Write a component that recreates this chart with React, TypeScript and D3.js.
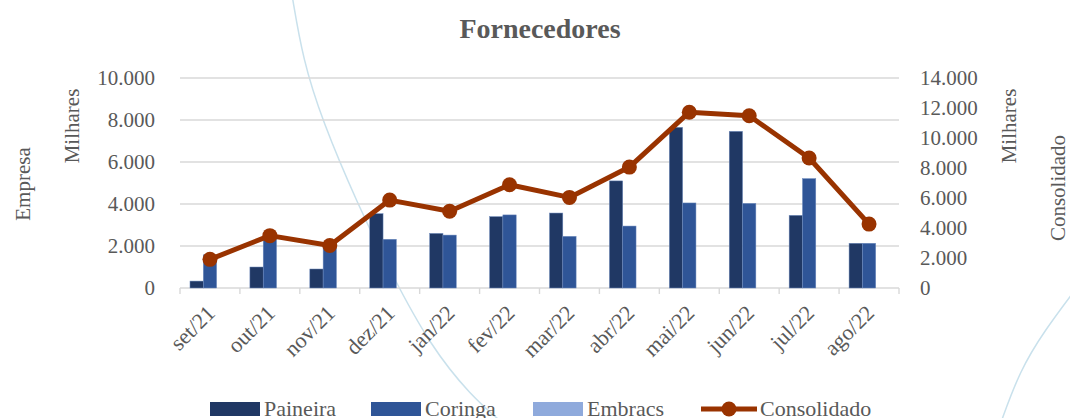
import * as d3 from "d3";

const months = ["set/21", "out/21", "nov/21", "dez/21", "jan/22", "fev/22", "mar/22", "abr/22", "mai/22", "jun/22", "jul/22", "ago/22"];
const paineira = [330, 1000, 905, 3540, 2600, 3400, 3570, 5100, 7650, 7460, 3460, 2130];
const coringa = [1580, 2490, 1920, 2320, 2520, 3480, 2460, 2950, 4050, 4030, 5210, 2130];
const embracs = [0, 0, 0, 0, 0, 0, 0, 0, 0, 0, 0, 0];
const consolidado = [1910, 3490, 2830, 5860, 5120, 6880, 6040, 8060, 11720, 11480, 8670, 4260];

const leftTicks = [0, 2000, 4000, 6000, 8000, 10000];
const rightTicks = [0, 2000, 4000, 6000, 8000, 10000, 12000, 14000];

const barSeries = [
  { name: "Paineira", values: paineira, color: "#203864" },
  { name: "Coringa", values: coringa, color: "#2F5597" },
  { name: "Embracs", values: embracs, color: "#8FAADC" },
];
const lineColor = "#993300";

const W = 1070;
const H = 418;
const FONT = "'Liberation Serif', 'Times New Roman', serif";
const TEXT = "#595959";

export default function App() {
  const left = 180, right = 899, top = 78, bottom = 288;

  const x = d3.scaleBand<string>().domain(months).range([left, right]).padding(0);
  const xs = d3.scaleBand<string>()
    .domain(barSeries.map(s => s.name))
    .range([0, x.bandwidth()])
    .paddingInner(0)
    .paddingOuter(0.75);
  const yL = d3.scaleLinear().domain([0, 10000]).range([bottom, top]);
  const yR = d3.scaleLinear().domain([0, 14000]).range([bottom, top]);
  const fmt = (v: number) => d3.format(",")(v).replace(/,/g, ".");

  const line = d3.line<number>()
    .x((_, i) => (x(months[i]) as number) + x.bandwidth() / 2)
    .y(d => yR(d));

  // faint decorative swooshes of the slide background
  const deco = d3.line().curve(d3.curveBasis);
  const swoosh1 = deco([[292, -5], [303, 60], [322, 120], [357, 203], [393, 277], [430, 345], [470, 395], [505, 425]]);
  const swoosh2 = deco([[1075, 290], [1045, 330], [1020, 370], [1000, 425]]);

  const legendItems = [
    { name: "Paineira", color: barSeries[0].color, x: 210, kind: "bar" },
    { name: "Coringa", color: barSeries[1].color, x: 371, kind: "bar" },
    { name: "Embracs", color: barSeries[2].color, x: 533, kind: "bar" },
    { name: "Consolidado", color: lineColor, x: 701, kind: "line" },
  ];

  return (
    <svg width={W} height={H} style={{ position: "absolute", left: 0, top: 0, background: "#fff" }} fontFamily={FONT}>
      <path d={swoosh1 ?? ""} fill="none" stroke="#C9E1EC" strokeWidth={1.5} />
      <path d={swoosh2 ?? ""} fill="none" stroke="#C9E1EC" strokeWidth={1.5} />

      <text x={540} y={38} textAnchor="middle" fontSize={28} fontWeight="bold" fill={TEXT}>Fornecedores</text>

      {/* gridlines */}
      {leftTicks.map(t => (
        <line key={t} x1={left} x2={right} y1={yL(t)} y2={yL(t)} stroke="#D9D9D9" strokeWidth={1.4} />
      ))}
      {/* category ticks */}
      {months.concat(["end"]).map((m, i) => {
        const xx = left + i * x.step();
        return <line key={m} x1={xx} x2={xx} y1={bottom} y2={bottom + 6} stroke="#D9D9D9" strokeWidth={1.4} />;
      })}

      {/* bars */}
      {barSeries.map(s => (
        <g key={s.name}>
          {s.values.map((v, i) => (
            v > 0 ? (
              <rect key={i}
                x={(x(months[i]) as number) + (xs(s.name) as number)}
                y={yL(v)}
                width={xs.bandwidth()}
                height={bottom - yL(v)}
                fill={s.color}
                stroke="#6F8BBE" strokeWidth={0.5} />
            ) : null
          ))}
        </g>
      ))}

      {/* line */}
      <path d={line(consolidado) ?? ""} fill="none" stroke={lineColor} strokeWidth={5} strokeLinejoin="round" />
      {consolidado.map((v, i) => (
        <circle key={i} cx={(x(months[i]) as number) + x.bandwidth() / 2} cy={yR(v)} r={7.5} fill={lineColor} />
      ))}

      {/* left axis labels */}
      {leftTicks.map(t => (
        <text key={t} x={155} y={yL(t)} dy="0.35em" textAnchor="end" fontSize={21} fill={TEXT}>{fmt(t)}</text>
      ))}
      {/* right axis labels */}
      {rightTicks.map(t => (
        <text key={t} x={920} y={yR(t)} dy="0.35em" textAnchor="start" fontSize={21} fill={TEXT}>{fmt(t)}</text>
      ))}

      {/* category labels */}
      {months.map(m => (
        <text key={m}
          transform={`translate(${(x(m) as number) + x.bandwidth() / 2 + 1},${bottom + 21}) rotate(-45)`}
          textAnchor="end" dy="0.35em" fontSize={22} fill={TEXT}>{m}</text>
      ))}

      {/* axis titles */}
      <text transform="translate(79,126) rotate(-90)" textAnchor="middle" fontSize={21} fill={TEXT}>Milhares</text>
      <text transform="translate(30,184) rotate(-90)" textAnchor="middle" fontSize={21} fill={TEXT}>Empresa</text>
      <text transform="translate(1016,126) rotate(-90)" textAnchor="middle" fontSize={21} fill={TEXT}>Milhares</text>
      <text transform="translate(1065,188) rotate(-90)" textAnchor="middle" fontSize={21} fill={TEXT}>Consolidado</text>

      {/* legend */}
      {legendItems.map(it => (
        <g key={it.name}>
          {it.kind === "bar" ? (
            <rect x={it.x} y={402} width={50} height={14} fill={it.color} />
          ) : (
            <g>
              <line x1={it.x} x2={it.x + 56} y1={409} y2={409} stroke={it.color} strokeWidth={5} />
              <circle cx={it.x + 28} cy={409} r={7.5} fill={it.color} />
            </g>
          )}
          <text x={it.x + (it.kind === "bar" ? 54 : 59)} y={416} fontSize={22} fill={TEXT}>{it.name}</text>
        </g>
      ))}
    </svg>
  );
}
